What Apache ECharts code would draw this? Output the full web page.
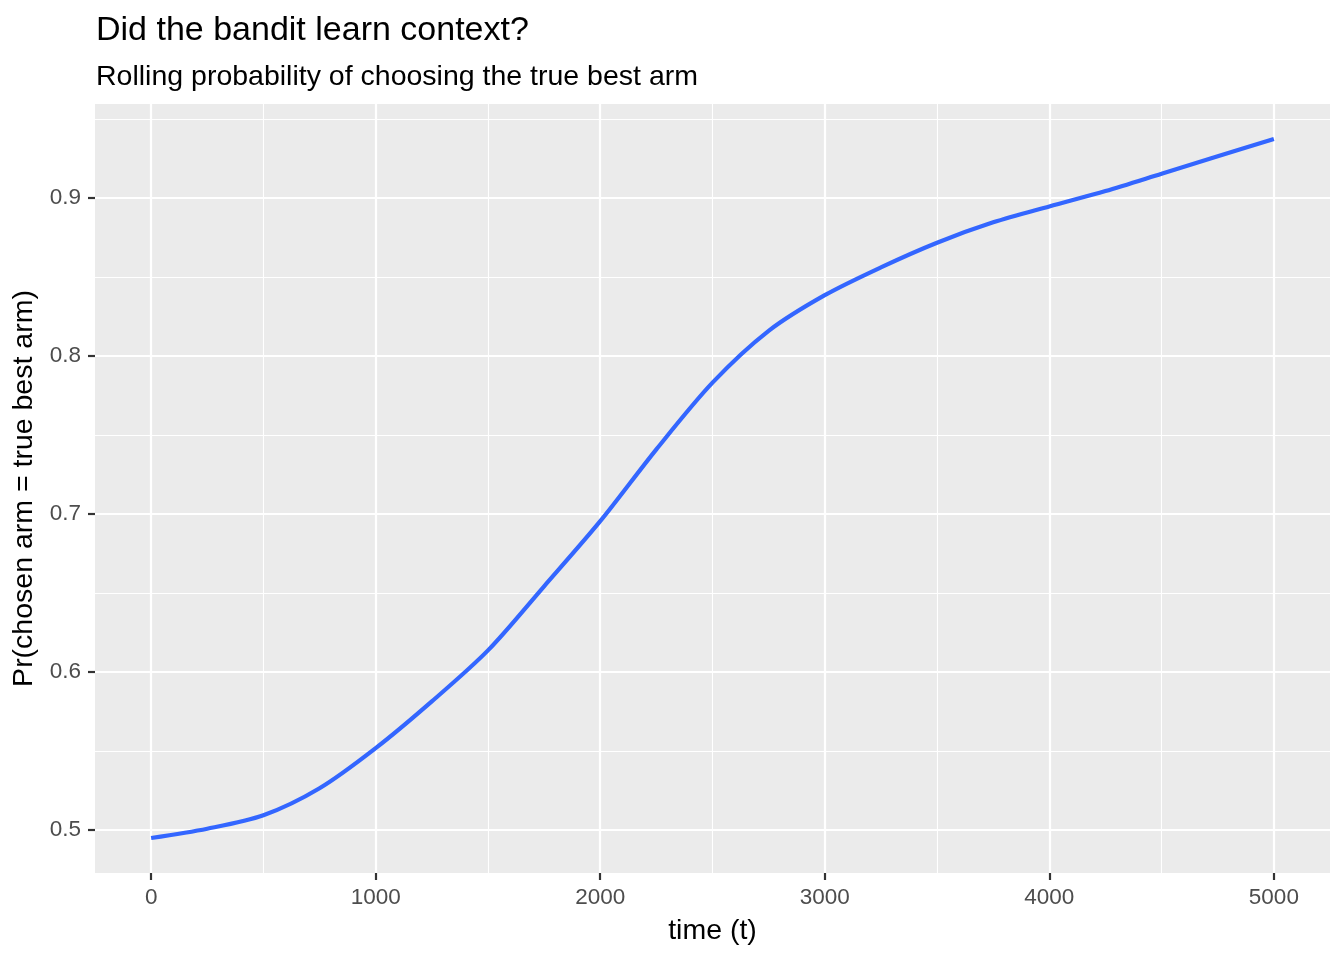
<!DOCTYPE html>
<html>
<head>
<meta charset="utf-8">
<script src="https://cdn.jsdelivr.net/npm/echarts@6/dist/echarts.min.js"></script>
<style>
html,body{margin:0;padding:0;background:#fff;}
#chart{width:1344px;height:960px;}
</style>
</head>
<body>
<div id="chart"></div>
<script>
// ---- data ----
const times = [0, 250, 500, 750, 1000, 1250, 1500, 1750, 2000, 2250, 2500,
               2750, 3000, 3250, 3500, 3750, 4000, 4250, 4500, 4750, 5000];
const probs = [0.4949, 0.5008, 0.5093, 0.5264, 0.5518, 0.5814, 0.6137, 0.6543, 0.6955, 0.7410, 0.7832,
               0.8160, 0.8386, 0.8562, 0.8718, 0.8847, 0.8948, 0.9045, 0.9155, 0.9266, 0.9375];
const xTicks = [0, 1000, 2000, 3000, 4000, 5000];
const xMinor = [500, 1500, 2500, 3500, 4500];
const yTicks = [0.5, 0.6, 0.7, 0.8, 0.9];
const yMinor = [0.55, 0.65, 0.75, 0.85, 0.95];

const titleText = 'Did the bandit learn context?';
const subtitleText = 'Rolling probability of choosing the true best arm';
const xName = 'time (t)';
const yName = 'Pr(chosen arm = true best arm)';

// ggplot-like 5% expansion
const xLo = Math.min(...times), xHi = Math.max(...times);
const yLo = Math.min(...probs), yHi = Math.max(...probs);
const xPad = (xHi - xLo) * 0.05, yPad = (yHi - yLo) * 0.05;

const FONT = '"Liberation Sans", Arial, sans-serif';
const chart = echarts.init(document.getElementById('chart'));

const gridLines = [];
xTicks.forEach(v => gridLines.push({xAxis: v, lineStyle: {color: '#ffffff', width: 2.2}}));
yTicks.forEach(v => gridLines.push({yAxis: v, lineStyle: {color: '#ffffff', width: 2.2}}));
xMinor.forEach(v => gridLines.push({xAxis: v, lineStyle: {color: '#ffffff', width: 1.1}}));
yMinor.forEach(v => gridLines.push({yAxis: v, lineStyle: {color: '#ffffff', width: 1.1}}));

chart.setOption({
  animation: false,
  backgroundColor: '#ffffff',
  textStyle: {fontFamily: FONT},
  title: [
    {text: titleText, left: 91, top: 9,
     textStyle: {fontFamily: FONT, fontSize: 34, fontWeight: 'normal', color: '#000000'}},
    {text: subtitleText, left: 91, top: 58,
     textStyle: {fontFamily: FONT, fontSize: 28.5, fontWeight: 'normal', color: '#000000'}}
  ],
  grid: {left: 95, right: 14, top: 104, bottom: 87, show: true,
         backgroundColor: '#EBEBEB', borderWidth: 0, containLabel: false},
  xAxis: {
    type: 'value', min: xLo - xPad, max: xHi + xPad,
    name: xName, nameLocation: 'middle', nameGap: 44,
    nameTextStyle: {fontFamily: FONT, fontSize: 28.5, color: '#000000'},
    axisLine: {show: true, onZero: false, lineStyle: {color: 'rgba(0,0,0,0)'}},
    axisTick: {show: true, customValues: xTicks, length: 7, lineStyle: {color: '#333333', width: 2.2}},
    axisLabel: {customValues: xTicks, margin: 13, fontFamily: FONT, fontSize: 22.5, color: '#4D4D4D',
                formatter: v => String(v)},
    splitLine: {show: false}
  },
  yAxis: {
    type: 'value', min: yLo - yPad, max: yHi + yPad,
    name: yName, nameLocation: 'middle', nameGap: 48, nameRotate: 90,
    nameTextStyle: {fontFamily: FONT, fontSize: 28.5, color: '#000000'},
    axisLine: {show: true, onZero: false, lineStyle: {color: 'rgba(0,0,0,0)'}},
    axisTick: {show: true, customValues: yTicks, length: 7, lineStyle: {color: '#333333', width: 2.2}},
    axisLabel: {customValues: yTicks, margin: 14, fontFamily: FONT, fontSize: 22.5, color: '#4D4D4D',
                formatter: v => v.toFixed(1)},
    splitLine: {show: false}
  },
  series: [
    {
      type: 'line', data: [], silent: true, z: 1,
      markLine: {silent: true, symbol: 'none', label: {show: false}, animation: false,
                 lineStyle: {type: 'solid'}, data: gridLines}
    },
    {
      type: 'line', z: 5,
      data: times.map((t, i) => [t, probs[i]]),
      smooth: 0.3, showSymbol: false, symbol: 'none',
      lineStyle: {color: '#3366FF', width: 4.2, cap: 'butt'},
      itemStyle: {color: '#3366FF'}
    }
  ]
});
</script>
</body>
</html>
